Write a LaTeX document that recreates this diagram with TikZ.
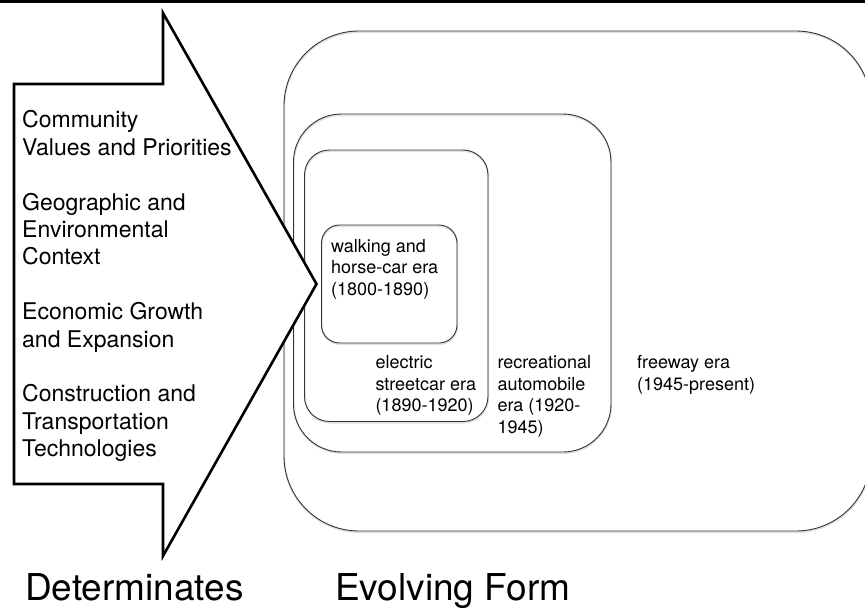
\documentclass[tikz,border=0pt]{standalone}
\usepackage{fontspec}
\setmainfont{TeX Gyre Heros}
\begin{document}
\begin{tikzpicture}[x=1pt,y=-1pt,
  frame/.style={draw=black!80,line width=0.9pt},
  shade/.style={draw=black!12,line width=1.6pt},
  bigarrow/.style={draw=black,fill=white,line width=2.6pt,line join=miter},
  % multi-line nodes are placed by the baseline of their last line
  factor/.style={anchor=base west,inner sep=0pt,align=left,
    font=\fontsize{23}{27.4}\selectfont},
  era/.style={anchor=base west,inner sep=0pt,align=left,
    font=\fontsize{18}{21.5}\selectfont},
  heading/.style={anchor=base west,inner sep=0pt,
    font=\fontsize{37}{44}\selectfont}]
\useasboundingbox (0,0) rectangle (865,608);
\fill[white] (0,0) rectangle (865,608);
% top rule
\fill[black] (0,0) rectangle (865,3.3);

% nested era frames, each with a faint shadow below its outline
\foreach \l/\t/\r/\b/\rad in {284/31/871/531/75, 293.5/114/611/452/48,
                               304.5/150/488/421.5/25, 321.5/225/457/343/18}{
  \draw[shade,rounded corners=\rad pt] (\l+0.3,\t+1.2) rectangle (\r+0.3,\b+1.2);
  \draw[frame,rounded corners=\rad pt] (\l,\t) rectangle (\r,\b);
}

% block arrow of determinates
\draw[bigarrow] (14,84) -- (163,84) -- (163,13) -- (316.5,284)
  -- (163,556) -- (163,484) -- (14,484) -- cycle;

\node[factor] (factors) at (22,456.7) {Community\\
  Values and Priorities\\[27.4pt]
  Geographic and\\ Environmental\\ Context\\[27.4pt]
  Economic Growth\\ and Expansion\\[27.4pt]
  Construction and\\ Transportation\\ Technologies};

\node[era] (walking) at (331,295) {walking and\\ horse-car era\\ (1800-1890)};
\node[era] (electric) at (375.3,411.7) {electric\\ streetcar era\\ (1890-1920)};
\node[era] (recreational) at (497.3,433) {recreational\\ automobile\\ era (1920-\\ 1945)};
\node[era] (freeway) at (637,390) {freeway era\\ (1945-present)};

\node[heading] (determinates) at (25,600.7) {Determinates};
\node[heading] (evolving) at (335,600.7) {Evolving Form};
\end{tikzpicture}
\end{document}
